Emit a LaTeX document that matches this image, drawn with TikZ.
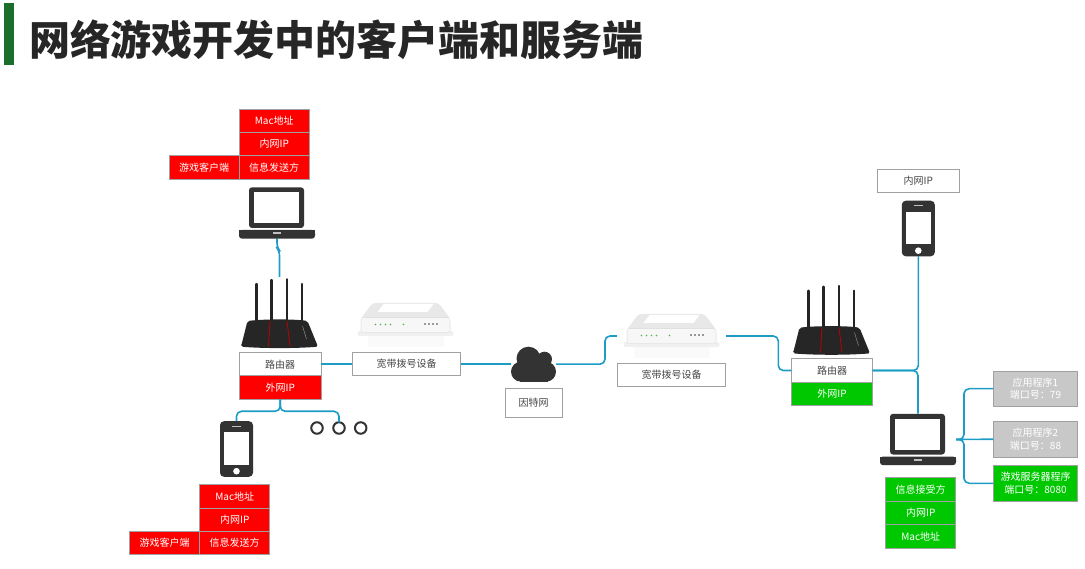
\documentclass[tikz,border=0pt]{standalone}
\usepackage{fontspec}
\setmainfont{Noto Sans CJK SC}
\usetikzlibrary{positioning}
\definecolor{linkblue}{HTML}{1E9CC6}
\definecolor{icondark}{HTML}{333333}
\definecolor{tagred}{HTML}{FF0000}
\definecolor{taggreen}{HTML}{00C800}
\definecolor{taggray}{HTML}{C8C8C8}
\definecolor{tagedge}{HTML}{A0A0A0}
\definecolor{barGreen}{HTML}{1B6F2A}
\tikzset{
  tag/.style={
    draw=tagedge,
    line width=0.8pt,
    rectangle,
    inner sep=0pt,
    outer sep=0pt,
    minimum width=70,
    minimum height=23.4,
    align=center,
    font=\fontsize{10}{12.5}\selectfont,
  },
  plaintag/.style={
    tag,
    fill=white,
    text=black!72
  },
  redtag/.style={
    tag,
    fill=tagred,
    text=white
  },
  greentag/.style={
    tag,
    fill=taggreen,
    text=white
  },
  graytag/.style={
    tag,
    fill=taggray,
    text=white,
    minimum width=84.5,
    minimum height=35.5
  },
  link/.style={
    draw=linkblue,
    line width=1.6pt,
    rounded corners=5
  },
  spot/.style={
    inner sep=0pt,
    outer sep=0pt
  },
  laptopspot/.style={spot, minimum width=76, minimum height=51.5},
  phonespot/.style={spot, minimum width=33, minimum height=55.6},
  routerspot/.style={spot, minimum width=77, minimum height=70},
  modemspot/.style={spot, minimum width=109, minimum height=44},
  cloudspot/.style={spot, minimum width=45, minimum height=34},
  dotspot/.style={
    draw=icondark,
    line width=2pt,
    circle,
    fill=white,
    inner sep=0pt,
    outer sep=0pt,
    minimum size=11.5
  },
  pics/laptopicon/.style={code={
    \fill[icondark, rounded corners=3] (-28,-25.7) rectangle (27,15);
    \fill[white] (-23,-21) rectangle (22,10.5);
    \fill[icondark, rounded corners=3] (-38,17) -- (38,17) -- (38,25.7) -- (-38,25.7) -- cycle;
    \fill[icondark] (-38,17) rectangle (38,20);
    \fill[black!25] (-4,19.5) rectangle (4,21.5);
  }},
  pics/phoneicon/.style={code={
    \fill[icondark, rounded corners=4] (-16.5,-27.8) rectangle (16.5,27.8);
    \fill[white] (-12.2,-16.7) rectangle (12.2,16);
    \fill[white] (0,22.2) circle[radius=3.3];
    \fill[black!25] (-4.5,-23) rectangle (4.5,-22);
  }},
  pics/routericon/.style={code={
    \foreach \ax/\ay in {-23/-28, -8/-32, 7.5/-32.7, 22.5/-28}{
      \draw[icondark!70!black, line width=2.3pt, line cap=round] (\ax,\ay) -- (\ax,9.7);
    }
    \fill[black!85, rounded corners=2] (-38.5,34.7) -- (-32,9) .. controls (-15,7) and (15,7) .. (28,9) -- (38.5,34.7) .. controls (15,36.5) and (-15,36.5) .. cycle;
    \draw[red!75!black, line width=0.8pt] (-9.5,9) -- (-11,34);
    \draw[red!75!black, line width=0.8pt] (7.5,9) -- (10.5,34);
    \draw[black!45, line width=0.5pt] (23,14) -- (27,27);
  }},
  pics/modemicon/.style={code={
    % reflection
    \fill[black!2] (-38,8) rectangle (38,22);
    \fill[black!6, rounded corners=2] (-48,6) rectangle (48,11);
    % housing
    \fill[black!9, rounded corners=3] (-45,8) -- (-45,-6) -- (-33,-22) -- (33,-22) -- (45,-6) -- (45,8) -- cycle;
    \fill[black!3, rounded corners=2] (-44,7) -- (-44,-7) -- (44,-7) -- (44,7) -- cycle;
    \fill[white] (-22,-21) -- (-28,-13) -- (22,-13) -- (28,-21) -- cycle;
    \fill[black!12] (-42,-8) rectangle (42,-7);
    % lamps
    \foreach \lx in {-30,-25,-20,-15,-2}{
      \fill[green!40!gray] (\lx,-0.5) circle[radius=0.8];
    }
    \foreach \lx in {18,22,26,30}{
      \fill[black!40] (\lx,-1.5) rectangle (\lx+2.5,0.5);
    }
  }},
  pics/cloudicon/.style={code={
    \fill[icondark] (-5,-5.5) circle[radius=12];
    \fill[icondark] (11,-5) circle[radius=7.5];
    \fill[icondark] (-12.5,7.5) circle[radius=10];
    \fill[icondark] (12.5,7.5) circle[radius=10];
    \fill[icondark] (-14,-2) rectangle (14,17.5);
  }}
}

\begin{document}
\begin{tikzpicture}[x=1pt,y=-1pt]
\useasboundingbox (0,0) rectangle (1085,569);

% --- Title ---
\node[spot, fill=barGreen, minimum width=9.5, minimum height=62] (titlebar) at (9,34) {};
\node[spot, anchor=west, text=black!85, font=\fontsize{41}{48}\bfseries\selectfont] (title) at (29,40) {网络游戏开发中的客户端和服务端};

% --- Client laptop and its tags ---
\node[redtag] (macA) at (274.2,120.7) {Mac地址};
\node[redtag, below=0pt of macA] (ipA) {内网IP};
\node[redtag, below=0pt of ipA] (sendA) {信息发送方};
\node[redtag, left=0pt of sendA] (clientA) {游戏客户端};
\node[laptopspot] (laptopA) at (277,213) {};

% --- Left router ---
\node[routerspot] (routerA) at (279.5,312) {};
\node[plaintag, minimum width=81.7] (routerTagA) at (280.2,364.2) {路由器};
\node[redtag, minimum width=81.7, below=0pt of routerTagA] (wanA) {外网IP};

% --- Left modem ---
\node[modemspot] (modemA) at (405.5,325) {};
\node[plaintag, minimum width=108.4] (modemTagA) at (406.5,364.2) {宽带拨号设备};

% --- Internet ---
\node[cloudspot] (cloud) at (533.5,364.2) {};
\node[plaintag, minimum width=56.7, minimum height=29] (cloudTag) at (533.7,402.8) {因特网};

% --- Phone below the left router ---
\node[phonespot] (phoneA) at (236.5,449) {};
\node[dotspot] (dotA) at (317,428) {};
\node[dotspot] (dotB) at (339,428) {};
\node[dotspot] (dotC) at (360.7,428) {};
\node[redtag] (macB) at (234.7,496.3) {Mac地址};
\node[redtag, below=0pt of macB] (ipB) {内网IP};
\node[redtag, below=0pt of ipB] (sendB) {信息发送方};
\node[redtag, left=0pt of sendB] (clientB) {游戏客户端};

% --- Right modem and router ---
\node[modemspot] (modemB) at (671.5,336) {};
\node[plaintag, minimum width=108.4, minimum height=22.6] (modemTagB) at (671.5,375) {宽带拨号设备};
\node[routerspot] (routerB) at (831.5,318.7) {};
\node[plaintag, minimum width=81.4] (routerTagB) at (832,370.5) {路由器};
\node[greentag, minimum width=81.4, below=0pt of routerTagB] (wanB) {外网IP};

% --- Phone on the right ---
\node[plaintag, minimum width=81.7] (ipC) at (918.2,180.7) {内网IP};
\node[phonespot] (phoneB) at (918.3,228.5) {};

% --- Server laptop and its tags ---
\node[laptopspot] (laptopB) at (918,439.5) {};
\node[greentag] (recvB) at (920.7,489.4) {信息接受方};
\node[greentag, below=0pt of recvB] (ipD) {内网IP};
\node[greentag, below=0pt of ipD] (macD) {Mac地址};

% --- Programs ---
\node[graytag] (appA) at (1035.5,388.7) {应用程序1\\端口号：79};
\node[graytag] (appB) at (1035.5,439.2) {应用程序2\\端口号：88};
\node[greentag, minimum width=84.5, minimum height=36] (appC) at (1035.5,483.3) {游戏服务器程序\\端口号：8080};

% --- Links ---
\draw[link] (laptopA.south) -- ++(0,9) -- ++(2.5,3) -- (routerA.north);
\draw[link] (routerTagA.east) -- (modemTagA.west);
\draw[link] (modemTagA.east) -- (cloud.west);
\draw[link] (cloud.east) -| ([xshift=-12]modemB.west) -- (modemB.west);
\draw[link] (modemB.east) -| ([xshift=-13]routerTagB.west) -- (routerTagB.west);
\draw[link] (wanA.south) -- ++(0,12) -| (phoneA.north);
\draw[link] (wanA.south) -- ++(0,12) -| (dotB.north);
\draw[link] (routerTagB.east) -| (phoneB.south);
\draw[link] (routerTagB.east) -| (laptopB.north);
\draw[link] (laptopB.east) -- ++(8,0) |- (appA.west);
\draw[link] (laptopB.east) -- (appB.west);
\draw[link] (laptopB.east) -- ++(8,0) |- (appC.west);

% --- Icons ---
\pic at (laptopA) {laptopicon};
\pic at (laptopB) {laptopicon};
\pic at (phoneA) {phoneicon};
\pic at (phoneB) {phoneicon};
\pic at (routerA) {routericon};
\pic at (routerB) {routericon};
\pic at (modemA) {modemicon};
\pic at (modemB) {modemicon};
\pic at (cloud) {cloudicon};

\end{tikzpicture}
\end{document}
